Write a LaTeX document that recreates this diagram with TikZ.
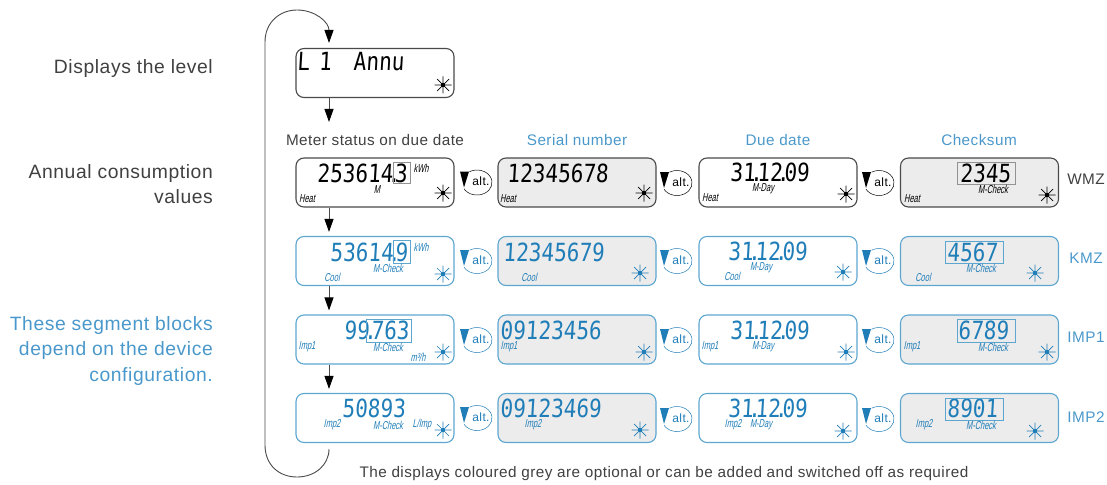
\documentclass[tikz,border=0pt]{standalone}
\usepackage{fontspec}
\usepackage{tikz}
\usetikzlibrary{arrows.meta}
\setmainfont{Liberation Sans}[LetterSpace=3]
\newfontfamily\lcdfont{DejaVu Sans Mono}[FakeSlant=0.06,FakeStretch=0.84]
\newfontfamily\tagfont{Liberation Sans}[FakeSlant=0.2,FakeStretch=0.65]
\newcommand{\lcdpt}{\kern-5.5pt.\kern-5.5pt}
\definecolor{txtblue}{HTML}{4A98CB}
\definecolor{lcdblue}{HTML}{1F7DB8}
\definecolor{boxblue}{HTML}{5CA6D0}
\definecolor{boxgrey}{HTML}{4A4A4A}
\definecolor{optgrey}{HTML}{ECECEC}
\tikzset{
  disp/.style={draw=boxgrey, line width=1.1pt, rounded corners=8pt, minimum width=158pt, minimum height=49pt, inner sep=0pt},
  dispb/.style={disp, draw=boxblue},
  opt/.style={fill=optgrey},
  lcd/.style={anchor=west, inner sep=0pt, font=\lcdfont\fontsize{25}{25}\selectfont},
  lcdb/.style={lcd, text=lcdblue},
  tag/.style={inner sep=0pt, font=\tagfont\fontsize{11.5}{11.5}\selectfont},
  tagb/.style={tag, text=lcdblue},
  seg/.style={draw=boxgrey!60, line width=0.5pt},
  segb/.style={draw=boxblue, line width=0.5pt},
  side/.style={anchor=east, align=right, inner sep=0pt, text=black!75, font=\fontsize{19.3}{25.5}\selectfont},
  head/.style={inner sep=0pt, text=black!75, font=\fontsize{15.3}{15.3}\selectfont},
  headb/.style={head, text=txtblue},
  flow/.style={draw=boxgrey, line width=0.9pt, -{Triangle[length=13pt,width=9pt,black]}},
  pics/flash/.style={code={
    \draw[line width=0.7pt] (-8.5,0) -- (8.5,0) (0,-8.5) -- (0,8.5) (-6,-6) -- (6,6) (-6,6) -- (6,-6);
    \fill (0,0) circle (2.2);
  }},
  pics/altmark/.style={code={
    \draw[line width=0.5pt] (-7.5,-10.8) arc[x radius=15, y radius=12.5, start angle=-120, end angle=150];
    \fill (-17,-11) -- (-8,-11) -- (-13,5) -- cycle;
    \node[inner sep=0pt, font=\fontsize{12}{12}\selectfont] at (4,-1) {alt.};
  }}
}
\begin{document}
\begin{tikzpicture}[x=1pt, y=-1pt]

    \useasboundingbox (0,0) rectangle (1107,484);
    \coordinate (stem) at (329,0);
    \coordinate (lvlend) at (329,122);
    \coordinate (loopstart) at (329,449);

    \node[side] (lvltxt) at (213,69) {Displays the level};
    \node[side] (anntxt) at (213,184) {Annual consumption\\values};
    \node[side, text=txtblue] (segtxt) at (213,351) {These segment blocks\\depend on the device\\configuration.};

    \node[head] (hstat) at (375,140) {Meter status on due date};
    \node[headb] (hser) at (577,140) {Serial number};
    \node[headb] (hdue) at (778,140) {Due date};
    \node[headb] (hchk) at (979,140) {Checksum};

    \node[disp] (l) at (375,73) {};
    \node[disp] (a1) at (375,182.5) {};
    \node[disp, opt] (a2) at (577,182.5) {};
    \node[disp] (a3) at (778,182.5) {};
    \node[disp, opt] (a4) at (979.5,182.5) {};
    \node[dispb] (b1) at (375,261) {};
    \node[dispb, opt] (b2) at (577,261) {};
    \node[dispb] (b3) at (778,261) {};
    \node[dispb, opt] (b4) at (979.5,261) {};
    \node[dispb] (c1) at (375,339.5) {};
    \node[dispb, opt] (c2) at (577,339.5) {};
    \node[dispb] (c3) at (778,339.5) {};
    \node[dispb, opt] (c4) at (979.5,339.5) {};
    \node[dispb] (d1) at (375,418) {};
    \node[dispb, opt] (d2) at (577,418) {};
    \node[dispb] (d3) at (778,418) {};
    \node[dispb, opt] (d4) at (979.5,418) {};

    \draw[flow] (l.south -| stem) -- (lvlend);
    \draw[flow, shorten >=4pt] (a1.south -| stem) -- (b1.north -| stem);
    \draw[flow, shorten >=4pt] (b1.south -| stem) -- (c1.north -| stem);
    \draw[flow, shorten >=4pt] (c1.south -| stem) -- (d1.north -| stem);
    \draw[flow, shorten >=5pt] (loopstart) .. controls (329,465) and (315,477) .. (297,477) .. controls (279,477) and (265,465) .. (265,445) -- (265,42) .. controls (265,22) and (280,10) .. (297,10) .. controls (315,10) and (329,22) .. (l.north -| stem);

    \node[lcd] (ltxt) at (297,62) {L\kern9pt1\kern22ptAnnu};
    \node[lcd] (a1txt) at (317,173) {253614\lcdpt3};
    \node[lcd] (a2txt) at (507,173) {12345678};
    \node[lcd] (a3txt) at (730,172) {31\lcdpt12\lcdpt09};
    \node[lcd] (a4txt) at (960,173) {2345};
    \node[lcdb] (b1txt) at (330,252) {53614\lcdpt9};
    \node[lcdb] (b2txt) at (503,252) {12345679};
    \node[lcdb] (b3txt) at (728,251) {31\lcdpt12\lcdpt09};
    \node[lcdb] (b4txt) at (947,252) {4567};
    \node[lcdb] (c1txt) at (344,330) {99\lcdpt763};
    \node[lcdb] (c2txt) at (500,330) {09123456};
    \node[lcdb] (c3txt) at (730,330) {31\lcdpt12\lcdpt09};
    \node[lcdb] (c4txt) at (958,330) {6789};
    \node[lcdb] (d1txt) at (342,408) {50893};
    \node[lcdb] (d2txt) at (500,408) {09123469};
    \node[lcdb] (d3txt) at (728,408) {31\lcdpt12\lcdpt09};
    \node[lcdb] (d4txt) at (947,408) {8901};

    \draw[seg] (393,162) rectangle (410,183);
    \draw[seg] (957,162) rectangle (1015,184);
    \draw[segb] (393,240) rectangle (410,263);
    \draw[segb] (945,241) rectangle (1003,263);
    \draw[segb] (366,319) rectangle (411,342);
    \draw[segb] (957,319) rectangle (1015,342);
    \draw[segb] (945,398) rectangle (1003,420);

    \node[tag] (a1u) at (421,168) {kWh};
    \node[tag] (a1m) at (377,190) {M};
    \node[tag] (a1h) at (307,199) {Heat};
    \node[tag] (a2h) at (508,199) {Heat};
    \node[tag] (a3h) at (710,198) {Heat};
    \node[tag] (a3m) at (763,189) {M-Day};
    \node[tag] (a4h) at (912,199) {Heat};
    \node[tag] (a4m) at (993,189) {M-Check};
    \node[tagb] (b1u) at (421,247) {kWh};
    \node[tagb] (b1m) at (388,268) {M-Check};
    \node[tagb] (b1h) at (332,277) {Cool};
    \node[tagb] (b2h) at (529,277) {Cool};
    \node[tagb] (b3h) at (732,276) {Cool};
    \node[tagb] (b3m) at (761,268) {M-Day};
    \node[tagb] (b4h) at (923,277) {Cool};
    \node[tagb] (b4m) at (981,268) {M-Check};
    \node[tagb] (c1h) at (307,347) {Imp1};
    \node[tagb] (c1m) at (388,347) {M-Check};
    \node[tagb] (c1u) at (418,357) {m³/h};
    \node[tagb] (c2h) at (509,347) {Imp1};
    \node[tagb] (c3h) at (710,347) {Imp1};
    \node[tagb] (c3m) at (763,347) {M-Day};
    \node[tagb] (c4h) at (912,347) {Imp1};
    \node[tagb] (c4m) at (993,347) {M-Check};
    \node[tagb] (d1h) at (332,425) {Imp2};
    \node[tagb] (d1m) at (388,425) {M-Check};
    \node[tagb] (d1u) at (422,425) {L/Imp};
    \node[tagb] (d2h) at (533,425) {Imp2};
    \node[tagb] (d3h) at (733,425) {Imp2};
    \node[tagb] (d3m) at (761,425) {M-Day};
    \node[tagb] (d4h) at (924,425) {Imp2};
    \node[tagb] (d4m) at (981,425) {M-Check};

    \pic at (443,85) {flash};
    \pic at (443,193) {flash};
    \pic at (644,193) {flash};
    \pic at (846,194) {flash};
    \pic at (1047,195) {flash};
    \pic[lcdblue] at (443,274) {flash};
    \pic[lcdblue] at (640,273) {flash};
    \pic[lcdblue] at (843,272) {flash};
    \pic[lcdblue] at (1035,273) {flash};
    \pic[lcdblue] at (443,352) {flash};
    \pic[lcdblue] at (644,352) {flash};
    \pic[lcdblue] at (846,352) {flash};
    \pic[lcdblue] at (1047,352) {flash};
    \pic[lcdblue] at (443,430) {flash};
    \pic[lcdblue] at (640,430) {flash};
    \pic[lcdblue] at (843,431) {flash};
    \pic[lcdblue] at (1035,431) {flash};

    \pic at (477,182.5) {altmark};
    \pic at (677,183) {altmark};
    \pic at (879,183) {altmark};
    \pic[lcdblue] at (477,261) {altmark};
    \pic[lcdblue] at (677,261) {altmark};
    \pic[lcdblue] at (879,261) {altmark};
    \pic[lcdblue] at (477,340) {altmark};
    \pic[lcdblue] at (677,340) {altmark};
    \pic[lcdblue] at (879,340) {altmark};
    \pic[lcdblue] at (477,418) {altmark};
    \pic[lcdblue] at (677,419) {altmark};
    \pic[lcdblue] at (879,419) {altmark};

    \node[head] (wmz) at (1086,179) {WMZ};
    \node[headb] (kmz) at (1086,258) {KMZ};
    \node[headb] (imp1) at (1086,337) {IMP1};
    \node[headb] (imp2) at (1086,417) {IMP2};

    \node[head] (note) at (664,474) {The displays coloured grey are optional or can be added and switched off as required};

\end{tikzpicture}
\end{document}
